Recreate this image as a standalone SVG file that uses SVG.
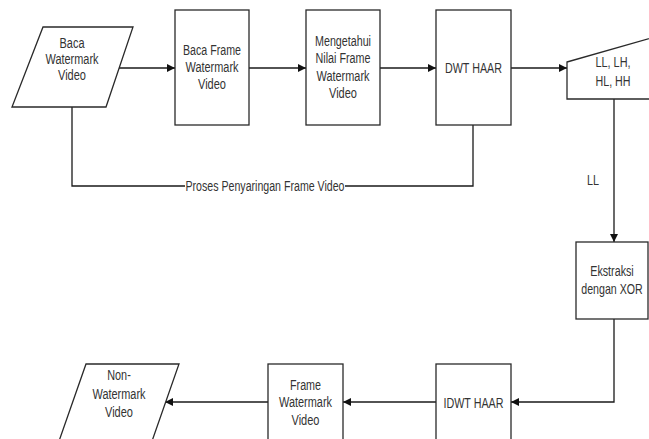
<svg xmlns="http://www.w3.org/2000/svg" width="649" height="439" viewBox="0 0 649 439">
<defs>
<marker id="arr" viewBox="0 0 10 10" refX="10" refY="5" markerWidth="8" markerHeight="8" markerUnits="userSpaceOnUse" orient="auto">
<path d="M0,0 L10,5 L0,10 z" fill="#111"/>
</marker>
<style>
.s{fill:#fff;stroke:#2a2a2a;stroke-width:1.3}
.t{font-family:"Liberation Sans",Arial,sans-serif;font-size:14px;fill:#333;text-anchor:middle}
.c{fill:none;stroke:#1a1a1a;stroke-width:1.3}
.a{marker-end:url(#arr)}
</style>
</defs>
<rect width="649" height="439" fill="#fff"/>
<g id="connectors">
<path class="c a" d="M119,68 L175,68"/>
<path class="c a" d="M249,68 L306,68"/>
<path class="c a" d="M380,68 L436,68"/>
<path class="c a" d="M511,68 L567,68"/>
<path class="c" d="M72,107 L72,186 L185,186"/>
<path class="c" d="M345,186 L473,186 L473,125"/>
<text class="t" x="265" y="191" textLength="159" lengthAdjust="spacingAndGlyphs">Proses Penyaringan Frame Video</text>
<path class="c a" d="M614,99 L614,242"/>
<text class="t" x="593" y="185" textLength="12" lengthAdjust="spacingAndGlyphs">LL</text>
<path class="c a" d="M614,319 L614,402 L511,402"/>
<path class="c a" d="M436,402 L343,402"/>
<path class="c a" d="M268,402 L165,402"/>
</g>
<g id="n1">
<polygon class="s" points="43,27 133,27 106,107 12,107"/>
<text class="t" x="72" y="48" textLength="25" lengthAdjust="spacingAndGlyphs">Baca</text>
<text class="t" x="72" y="64" textLength="53" lengthAdjust="spacingAndGlyphs">Watermark</text>
<text class="t" x="72" y="80" textLength="28" lengthAdjust="spacingAndGlyphs">Video</text>
</g>
<g id="n2">
<rect class="s" x="175" y="10" width="74" height="115"/>
<text class="t" x="212" y="55" textLength="58" lengthAdjust="spacingAndGlyphs">Baca Frame</text>
<text class="t" x="212" y="72" textLength="53" lengthAdjust="spacingAndGlyphs">Watermark</text>
<text class="t" x="212" y="88.5" textLength="28" lengthAdjust="spacingAndGlyphs">Video</text>
</g>
<g id="n3">
<rect class="s" x="306" y="10" width="74" height="115"/>
<text class="t" x="343" y="46" textLength="56" lengthAdjust="spacingAndGlyphs">Mengetahui</text>
<text class="t" x="343" y="63" textLength="55" lengthAdjust="spacingAndGlyphs">Nilai Frame</text>
<text class="t" x="343" y="80.5" textLength="53" lengthAdjust="spacingAndGlyphs">Watermark</text>
<text class="t" x="343" y="97.5" textLength="28" lengthAdjust="spacingAndGlyphs">Video</text>
</g>
<g id="n4">
<rect class="s" x="436" y="10" width="75" height="115"/>
<text class="t" x="473.5" y="73" textLength="57" lengthAdjust="spacingAndGlyphs">DWT HAAR</text>
</g>
<g id="n5">
<polygon class="s" points="567,62 662,35 662,99 567,99"/>
<text class="t" x="613" y="67" textLength="35" lengthAdjust="spacingAndGlyphs">LL, LH,</text>
<text class="t" x="613" y="85.5" textLength="35" lengthAdjust="spacingAndGlyphs">HL, HH</text>
</g>
<g id="n6">
<rect class="s" x="576" y="242" width="72" height="77"/>
<text class="t" x="612" y="276" textLength="43.5" lengthAdjust="spacingAndGlyphs">Ekstraksi</text>
<text class="t" transform="translate(612,294) scale(0.76,1)" x="0" y="0">dengan XOR</text>
</g>
<g id="n7">
<rect class="s" x="436" y="364" width="75" height="115"/>
<text class="t" x="473.5" y="408" textLength="60" lengthAdjust="spacingAndGlyphs">IDWT HAAR</text>
</g>
<g id="n8">
<rect class="s" x="268" y="364" width="75" height="115"/>
<text class="t" x="305.5" y="390" textLength="31" lengthAdjust="spacingAndGlyphs">Frame</text>
<text class="t" x="305.5" y="407" textLength="53" lengthAdjust="spacingAndGlyphs">Watermark</text>
<text class="t" x="305.5" y="425" textLength="28" lengthAdjust="spacingAndGlyphs">Video</text>
</g>
<g id="n9">
<polygon class="s" points="86,364 179,364 151,444 58,444"/>
<text class="t" x="119" y="380" textLength="23.5" lengthAdjust="spacingAndGlyphs">Non-</text>
<text class="t" x="119" y="398.5" textLength="53" lengthAdjust="spacingAndGlyphs">Watermark</text>
<text class="t" x="119" y="416.5" textLength="28" lengthAdjust="spacingAndGlyphs">Video</text>
</g>
</svg>
